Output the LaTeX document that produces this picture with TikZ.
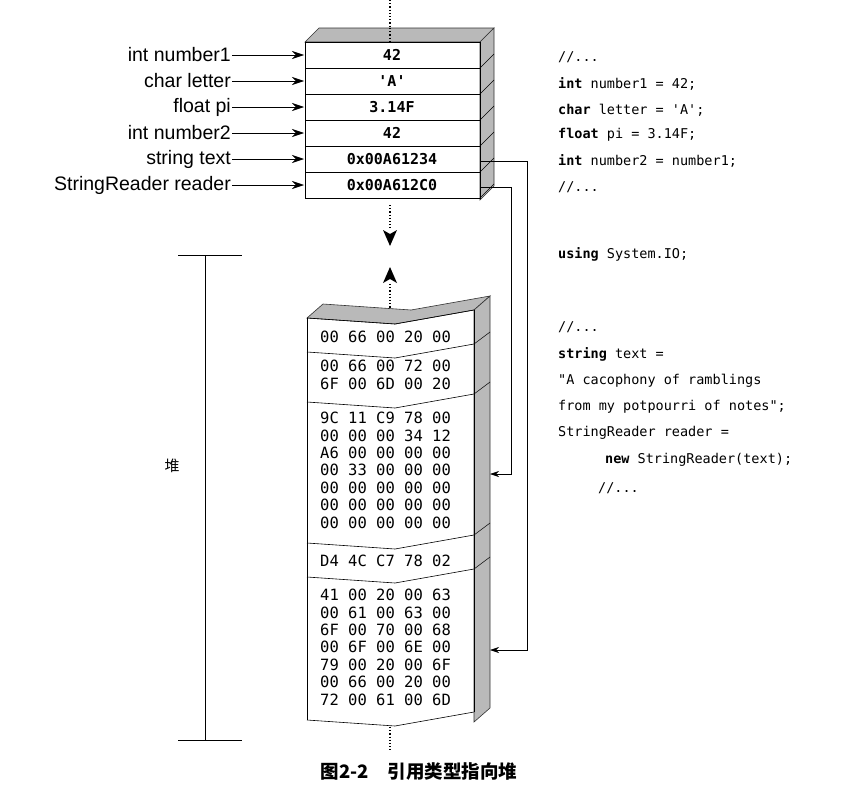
\documentclass[tikz,border=0pt]{standalone}
\usepackage{fontspec}
\setmainfont{Liberation Sans}
\setmonofont{DejaVu Sans Mono}
\newfontfamily\cjk{Noto Sans CJK SC}
\usetikzlibrary{arrows.meta}
\begin{document}
\begin{tikzpicture}[x=1pt,y=-1pt,
  lab/.style={anchor=east,font=\fontsize{19.5}{19.5}\selectfont,inner sep=1pt},
  cell/.style={font=\ttfamily\bfseries\fontsize{15}{15}\selectfont},
  hex/.style={font=\ttfamily\fontsize{15.5}{17.4}\selectfont,align=left,anchor=north west,inner sep=0pt},
  code/.style={font=\ttfamily\fontsize{13.5}{13.5}\selectfont,anchor=west,inner sep=0pt},
  side/.style={fill=gray!55,draw=black!80,line width=0.6pt},
  la/.style={-{Stealth[length=12pt,width=8pt]},line width=0.6pt},
  ra/.style={-{Stealth[length=9pt,width=6pt]},line width=0.6pt},
  dots/.style={dotted,line width=1.2pt}]
\useasboundingbox (0,0) rectangle (845,795);
\draw[dots] (390,0) -- (390,28);
% stack
\fill[side] (305,42) -- (319,28) -- (494,28) -- (480,42) -- cycle;
\fill[side] (480,42) -- (494,28) -- (494,186) -- (480,200) -- cycle;
\draw[dots] (390,28) -- (390,42);
\foreach \v [count=\k from 0] in {42,'A',3.14F,42,0x00A61234,0x00A612C0}{
  \pgfmathsetmacro\yt{42+26*\k}
  \draw[line width=0.6pt] (305,\yt) rectangle (480,\yt+26);
  \node[cell] (c\k) at (392,\yt+13) {\v};
  \draw[line width=0.5pt] (480,\yt+26) -- (494,\yt+12);
}
\coordinate (s0) at (304,55); \coordinate (s1) at (304,81);
\coordinate (s2) at (304,107); \coordinate (s3) at (304,133);
\coordinate (s4) at (304,159); \coordinate (s5) at (304,185);
\node[lab] (l0) at (232,55) {int number1};
\node[lab] (l1) at (232,81) {char letter};
\node[lab] (l2) at (232,107) {float pi};
\node[lab] (l3) at (232,133) {int number2};
\node[lab] (l4) at (232,159) {string text};
\node[lab] (l5) at (232,185) {StringReader reader};
\foreach \k in {0,...,5}{\draw[la] (l\k.east) -- (s\k);}
% arrows between
\draw[dots] (390,205) -- (390,228);
\fill (383,230) -- (390,234) -- (397,230) -- (390,246) -- cycle;
\fill (383,283) -- (390,279) -- (397,283) -- (390,267) -- cycle;
\draw[dots] (390,284) -- (390,318);
% bracket
\draw[line width=0.6pt] (178,255) -- (242,255);
\draw[line width=0.6pt] (178,740) -- (242,740);
\draw[line width=0.6pt] (205,255) -- (205,740);
\node[font=\cjk\fontsize{15}{15}\selectfont] (heaplab) at (172,466) {堆};
% heap
\fill[side] (307,318) -- (323,304) -- (411,310) -- (490,296) -- (474,310) -- (395,324) -- cycle;
\fill[side] (474,310) -- (490,296) -- (490,708) -- (474,722) -- cycle;
\foreach \y in {318,352,402,543,577,720}{
  \draw[line width=0.6pt] (307,\y) -- (395,\y+6) -- (474,\y-8);
}
\foreach \y in {352,402,543,577}{\draw[line width=0.5pt] (474,\y-8) -- (490,\y-20);}
\draw[line width=0.6pt] (307,318) -- (307,720);
\draw[line width=0.6pt] (474,310) -- (474,712);
\draw[dots] (390,727) -- (390,750);
\node[hex] (h1) at (320,331) {00 66 00 20 00};
\node[hex] (h2) at (320,360) {00 66 00 72 00\\6F 00 6D 00 20};
\node[hex] (h3) at (320,412) {9C 11 C9 78 00\\00 00 00 34 12\\A6 00 00 00 00\\00 33 00 00 00\\00 00 00 00 00\\00 00 00 00 00\\00 00 00 00 00};
\node[hex] (h4) at (320,555) {D4 4C C7 78 02};
\node[hex] (h5) at (320,589) {41 00 20 00 63\\00 61 00 63 00\\6F 00 70 00 68\\00 6F 00 6E 00\\79 00 20 00 6F\\00 66 00 20 00\\72 00 61 00 6D};
% pointers
\coordinate (t0) at (480,161); \coordinate (t1) at (527,161); \coordinate (t2) at (527,650); \coordinate (e2) at (490,650);
\coordinate (r0) at (480,187); \coordinate (r1) at (511,187); \coordinate (r2) at (511,474); \coordinate (e1) at (490,474);
\draw[ra] (t0) -- (t1) -- (t2) -- (e2);
\draw[ra] (r0) -- (r1) -- (r2) -- (e1);
% code
\node[code] (k1) at (558,57) {//...};
\node[code] (k2) at (558,84) {\textbf{int} number1 = 42;};
\node[code] (k3) at (558,110) {\textbf{char} letter = 'A';};
\node[code] (k4) at (558,135) {\textbf{float} pi = 3.14F;};
\node[code] (k5) at (558,161) {\textbf{int} number2 = number1;};
\node[code] (k6) at (558,187) {//...};
\node[code] (k7) at (558,254) {\textbf{using} System.IO;};
\node[code] (k8) at (558,327) {//...};
\node[code] (k9) at (558,354) {\textbf{string} text =};
\node[code] (k10) at (558,381) {"A cacophony of ramblings};
\node[code] (k11) at (558,407) {from my potpourri of notes";};
\node[code] (k12) at (558,433) {StringReader reader =};
\node[code] (k13) at (605,460) {\textbf{new} StringReader(text);};
\node[code] (k14) at (598,488) {//...};
\node[font=\cjk\bfseries\fontsize{18.5}{18.5}\selectfont] (cap) at (419,772) {图2-2\quad 引用类型指向堆};
\end{tikzpicture}
\end{document}
